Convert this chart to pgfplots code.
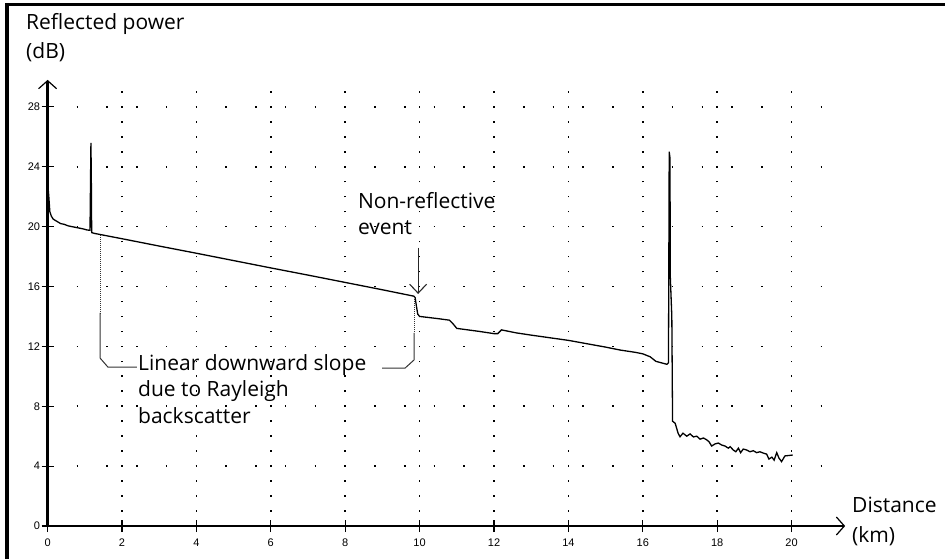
\documentclass[border=0pt]{standalone}
\usepackage{pgfplots}
\pgfplotsset{compat=1.18}
\usepackage{fontspec}
\setmainfont{Open Sans}
\newfontfamily\tickfont{Liberation Sans}
\usetikzlibrary{arrows.meta}
\newcommand\lab{\fontsize{21bp}{25bp}\selectfont}

\pgfplotstableread{
x y
0.00 22.9
0.03 22.1
0.06 21.0
0.10 20.7
0.15 20.5
0.25 20.35
0.35 20.2
0.45 20.15
0.55 20.05
0.65 20.0
0.75 19.95
0.85 19.9
0.95 19.85
1.05 19.78
1.14 19.75
1.155 23.3
1.165 25.6
1.175 23.3
1.185 19.6
1.25 19.55
2.00 19.19
3.00 18.70
4.00 18.22
5.00 17.73
6.00 17.24
7.00 16.76
8.00 16.27
9.00 15.78
9.85 15.35
9.88 15.25
9.92 14.6
9.95 14.15
10.00 14.0
10.50 13.85
10.80 13.75
10.90 13.5
11.00 13.2
11.30 13.1
11.60 13.0
12.00 12.85
12.10 12.85
12.20 13.1
12.30 13.05
12.60 12.9
13.00 12.75
14.00 12.4
15.00 11.95
15.40 11.75
15.80 11.6
16.00 11.5
16.20 11.3
16.35 11.0
16.50 10.9
16.65 10.8
16.69 10.9
16.71 25.0
16.73 24.6
16.74 16.6
16.78 14.0
16.80 7.0
16.87 6.86
16.95 6.19
17.00 5.96
17.08 6.2
17.18 6.0
17.27 6.15
17.36 5.95
17.45 6.0
17.54 5.8
17.63 5.88
17.72 5.75
17.78 5.63
17.85 5.34
17.94 5.48
18.03 5.54
18.12 5.41
18.21 5.34
18.30 5.2
18.35 5.3
18.43 5.08
18.50 4.96
18.57 5.2
18.63 4.9
18.70 5.14
18.79 5.08
18.88 4.96
18.97 5.03
19.06 4.9
19.15 4.96
19.24 4.87
19.33 4.8
19.39 4.47
19.47 4.6
19.53 4.4
19.60 4.9
19.66 4.54
19.73 4.3
19.82 4.68
20.03 4.74
}\trace

\begin{document}
\begin{tikzpicture}
\useasboundingbox (0,0) rectangle (945bp,559bp);
\draw[line width=4bp] (7bp,0) -- (7bp,556bp);
\draw[line width=3bp] (5bp,554bp) -- (945bp,554bp);

\begin{axis}[
  at={(47.6bp,33bp)}, anchor=south west,
  x=37.2bp, y=14.97bp,
  xmin=0, xmax=21.44, ymin=0, ymax=29.8,
  axis lines=left,
  axis line style={line width=2.4bp, -{Straight Barb[length=8bp,width=18bp,line width=1.2bp]}},
  xtick={0,2,...,20}, ytick={0,4,...,28},
  tick align=center, major tick length=12bp,
  tick style={line width=1.2bp, black},
  ticklabel style={font=\tickfont\fontsize{11bp}{12bp}\selectfont},
  xticklabel style={yshift=-3bp},
  yticklabel style={xshift=2bp},
  /pgf/number format/assume math mode=true,
  xmajorgrids, ymajorgrids,
  x grid style={line width=1.6bp, dash pattern=on 1.6bp off 13.37bp, dash phase=0.8bp, black},
  y grid style={line width=1.6bp, dash pattern=on 1.6bp off 28.16bp, dash phase=0.8bp, black},
  clip=false,
]
\addplot[line width=1.3bp, black] table[x=x,y=y] {\trace};

\draw[line width=1bp, black!80, dash pattern=on 1bp off 1bp] (axis cs:1.41,19.45) -- (axis cs:1.41,14.23);
\draw[line width=1bp, black!80] (axis cs:1.41,14.23) -- (axis cs:1.41,11.22) -- (axis cs:1.62,10.62) -- (axis cs:2.40,10.62);
\draw[line width=1bp, black!80, dash pattern=on 1bp off 1bp] (axis cs:9.85,15.3) -- (axis cs:9.85,12.9);
\draw[line width=1bp, black!80] (axis cs:9.85,12.9) -- (axis cs:9.85,11.09) -- (axis cs:9.61,10.55) -- (axis cs:8.99,10.55);
\draw[line width=1.1bp, black!85, -{Straight Barb[length=9bp,width=17bp]}] (axis cs:9.96,18.6) -- (axis cs:9.96,15.5);

\node[anchor=base west, inner sep=0pt] at (axis cs:8.34,21.24) {\lab Non-reflective};
\node[anchor=base west, inner sep=0pt] at (axis cs:8.34,19.44) {\lab event};
\node[anchor=base west, inner sep=0pt] at (axis cs:2.43,10.42) {\lab Linear downward slope};
\node[anchor=base west, inner sep=0pt] at (axis cs:2.43,8.62) {\lab due to Rayleigh};
\node[anchor=base west, inner sep=0pt] at (axis cs:2.43,6.88) {\lab backscatter};
\end{axis}

\node[anchor=base west, inner sep=0pt] at (26bp,529bp) {\lab Reflected power};
\node[anchor=base west, inner sep=0pt] at (26bp,500bp) {\lab (dB)};
\node[anchor=base west, inner sep=0pt] at (852bp,46bp) {\lab Distance};
\node[anchor=base west, inner sep=0pt] at (852bp,17bp) {\lab (km)};
\end{tikzpicture}
\end{document}
